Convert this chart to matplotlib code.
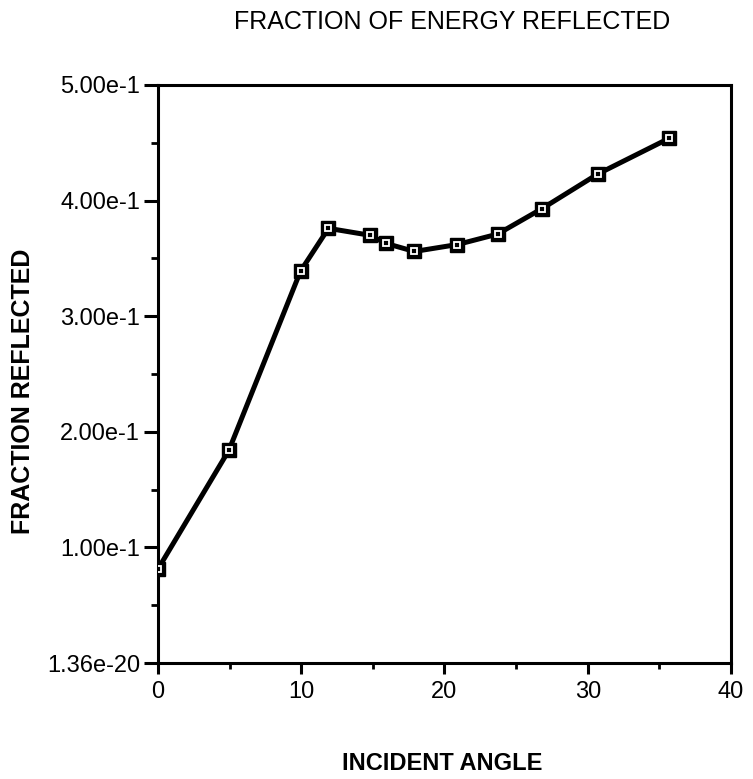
import matplotlib
matplotlib.use("Agg")
import matplotlib.pyplot as plt
from matplotlib.ticker import MultipleLocator

angles = [0, 4.95, 9.95, 11.9, 14.8, 15.9, 17.9, 20.9, 23.7, 26.8, 30.7, 35.7]
fraction = [0.0813, 0.184, 0.339, 0.376, 0.370, 0.363, 0.356, 0.362, 0.371, 0.393, 0.423, 0.454]

y_ticks = [0.0, 0.1, 0.2, 0.3, 0.4, 0.5]
y_tick_labels = ["1.36e-20", "1.00e-1", "2.00e-1", "3.00e-1", "4.00e-1", "5.00e-1"]
x_ticks = [0, 10, 20, 30, 40]
x_tick_labels = ["0", "10", "20", "30", "40"]

title = "FRACTION OF ENERGY REFLECTED"
xlabel = "INCIDENT ANGLE"
ylabel = "FRACTION REFLECTED"

fam = ["Liberation Sans", "DejaVu Sans"]
plt.rcParams["font.family"] = fam

fig = plt.figure(figsize=(7.53, 7.79), dpi=100)
ax = fig.add_axes([0.2098, 0.1489, 0.7610, 0.7420])

ax.plot(angles, fraction, color="black", lw=3.6, solid_joinstyle="miter", zorder=2)
ax.plot(angles, fraction, ls="none", marker="s", markersize=10, color="black", zorder=3)
ax.plot(angles, fraction, ls="none", marker="s", markersize=3.8,
        markerfacecolor="black", markeredgecolor="white", markeredgewidth=1.3, zorder=4)

ax.set_xlim(0, 40)
ax.set_ylim(0, 0.5)
ax.set_xticks(x_ticks)
ax.set_xticklabels(x_tick_labels)
ax.set_yticks(y_ticks)
ax.set_yticklabels(y_tick_labels)
ax.xaxis.set_minor_locator(MultipleLocator(5))
ax.yaxis.set_minor_locator(MultipleLocator(0.05))

for s in ax.spines.values():
    s.set_linewidth(2.2)
ax.tick_params(which="major", direction="out", width=2.2, labelsize=17)
ax.tick_params(which="minor", direction="out", width=2.0)
ax.tick_params(axis="y", which="major", length=10, pad=3)
ax.tick_params(axis="y", which="minor", length=5)
ax.tick_params(axis="x", which="major", length=8, pad=5)
ax.tick_params(axis="x", which="minor", length=4.5)

fig.text(0.600, 0.972, title, ha="center", va="center", fontsize=18)
fig.text(0.587, 0.0205, xlabel, ha="center", va="center", fontsize=17, fontweight="bold")
fig.text(0.031, 0.498, ylabel, ha="center", va="center", rotation=90, fontsize=18, fontweight="bold")

fig.savefig("out.png", dpi=100)
